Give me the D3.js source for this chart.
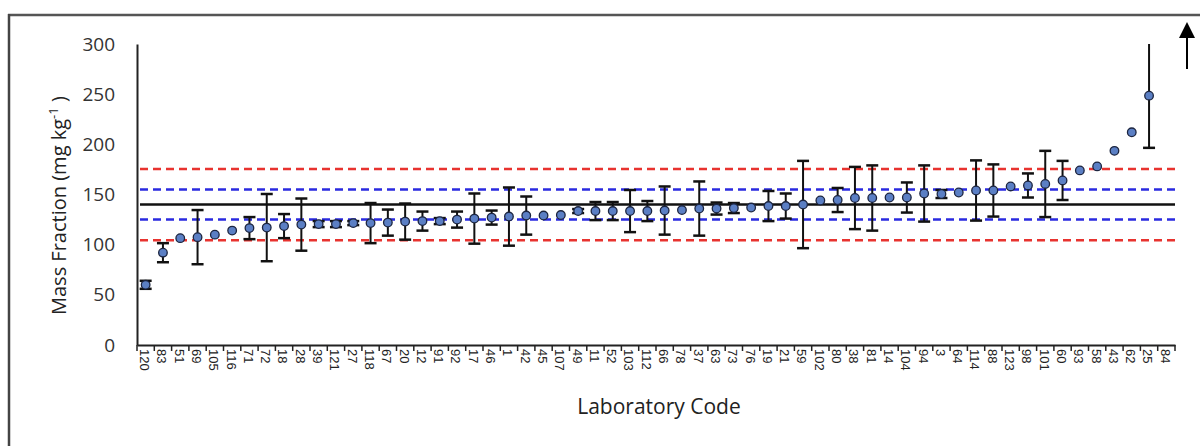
<!DOCTYPE html>
<html><head><meta charset="utf-8">
<script src="https://cdn.jsdelivr.net/npm/d3@7"></script>
<style>body{margin:0;background:#fff;} svg{display:block;}</style>
</head><body>
<svg id="c" width="1200" height="446"></svg>
<script>
const labCodes = ["120","83","51","69","105","116","71","72","18","28","39","121","27","118","67","20","12","91","92","17","46","1","42","45","107","49","11","52","103","112","66","78","37","63","73","76","19","21","59","102","80","38","81","14","104","94","3","64","114","88","123","98","101","60","93","58","43","62","25","84"];
const massValues = [60,92,106.5,107.5,110,114,116.5,117,118.5,120,120.5,120.5,121.5,121.5,122,123,123.5,123.5,125,126,127,128,129,129,129.5,133.5,133.5,133.5,133.5,133.5,134,134.5,136,136,136.5,137,138.5,138.5,140,144,144.5,146.5,146.5,147,147,151,150.5,152,154,154,158,159,160.5,164,174,178,193.5,212,248.5,null];
const uncertainties = [4,9.5,0,27,0,0,11,33.5,12,26,3,3,2,20,13,18,9.5,3,8,25,7,29,19,0,0,2,9,9,21,10,24,0,27,6,5,0,15,12.5,43.5,0,12,31,32.5,0,15,28,4,0,30,26,0,12,33,19.5,0,0,0,0,52,0];
const yTicks = [0,50,100,150,200,250,300];
const refMean = 140;
const refInner = [125,155];
const refOuter = [104.5,175.5];

const FONT = "'Open Sans', Lato, sans-serif";
const svg = d3.select("#c");
// outer frame
svg.append("line").attr("x1",8).attr("x2",1200).attr("y1",15).attr("y2",15).attr("stroke","#555").attr("stroke-width",2.5);
svg.append("line").attr("x1",9).attr("x2",9).attr("y1",14).attr("y2",446).attr("stroke","#444").attr("stroke-width",2.5);

const x = d3.scaleBand().domain(labCodes).range([137,1175]).padding(0);
const y = d3.scaleLinear().domain([0,300]).range([345,44]);

svg.append("defs").append("clipPath").attr("id","pc").append("rect")
  .attr("x",120).attr("y",44).attr("width",1080).attr("height",310);

// reference lines
const xl = 140, xr = 1175;
function hline(v,color,dash){
  svg.append("line").attr("x1",xl).attr("x2",xr).attr("y1",y(v)).attr("y2",y(v))
    .attr("stroke",color).attr("stroke-width",2.5).attr("stroke-dasharray",dash||null);
}
refOuter.forEach(v=>hline(v,"#e8332f","8,5"));
refInner.forEach(v=>hline(v,"#2a2ae0","8,5"));
hline(refMean,"#111");

// axes
const yAxis = d3.axisLeft(y).tickValues(yTicks).tickSize(0).tickPadding(22);
const gy = svg.append("g").attr("transform","translate(137,0)").call(yAxis);
gy.select(".domain").attr("stroke","#222").attr("stroke-width",2);
gy.selectAll("text").attr("font-family",FONT).attr("font-size",19).attr("fill","#333");

const xAxis = d3.axisBottom(x).tickSize(0);
const gx = svg.append("g").attr("transform","translate(0,345)").call(xAxis);
gx.select(".domain").attr("stroke","#222").attr("stroke-width",2);
gx.selectAll("text")
  .attr("font-family","'Liberation Sans', Arial, sans-serif").attr("font-size",13).attr("fill","#222")
  .attr("text-anchor","start").attr("dy","0.35em")
  .attr("transform","translate(-1,4) rotate(90)").attr("y",0).attr("x",0);
// tick marks at category boundaries
const bounds = labCodes.map(c=>x(c)).concat([x.range()[1]]);
gx.selectAll("line.bt").data(bounds).join("line").attr("class","bt")
  .attr("x1",d=>d).attr("x2",d=>d).attr("y1",0).attr("y2",6).attr("stroke","#222").attr("stroke-width",1.5);

// data
const data = labCodes.map((c,i)=>({c, v:massValues[i], e:uncertainties[i]})).filter(d=>d.v!==null);
const gd = svg.append("g").attr("clip-path","url(#pc)");
const cx = d=>x(d.c)+x.bandwidth()/2;
const eb = data.filter(d=>d.e>0);
gd.selectAll("line.eb").data(eb).join("line").attr("class","eb")
  .attr("x1",cx).attr("x2",cx).attr("y1",d=>y(Math.min(300,d.v+d.e))).attr("y2",d=>y(d.v-d.e))
  .attr("stroke","#111").attr("stroke-width",2);
const capW = 6;
gd.selectAll("line.ct").data(eb.filter(d=>d.v+d.e<300)).join("line").attr("class","ct")
  .attr("x1",d=>cx(d)-capW).attr("x2",d=>cx(d)+capW).attr("y1",d=>y(d.v+d.e)).attr("y2",d=>y(d.v+d.e))
  .attr("stroke","#111").attr("stroke-width",2.5);
gd.selectAll("line.cb").data(eb).join("line").attr("class","cb")
  .attr("x1",d=>cx(d)-capW).attr("x2",d=>cx(d)+capW).attr("y1",d=>y(d.v-d.e)).attr("y2",d=>y(d.v-d.e))
  .attr("stroke","#111").attr("stroke-width",2.5);
gd.selectAll("circle.pt").data(data).join("circle").attr("class","pt")
  .attr("cx",cx).attr("cy",d=>y(d.v)).attr("r",4.3)
  .attr("fill","#5b7fc4").attr("stroke","#1c2540").attr("stroke-width",1.3);

// off-scale arrow for lab 84
const ax = 1187;
svg.append("line").attr("x1",ax).attr("x2",ax).attr("y1",34).attr("y2",69).attr("stroke","#000").attr("stroke-width",2);
svg.append("path").attr("d",`M${ax},22 L${ax-8},38 L${ax+8},38 Z`).attr("fill","#000");

// titles
const yt = svg.append("text").attr("transform","translate(66,315) rotate(-90)")
  .attr("text-anchor","start").attr("font-family",FONT).attr("font-size",20).attr("fill","#222");
yt.append("tspan").text("Mass Fraction (mg kg");
yt.append("tspan").attr("dy",-8).attr("font-size",13).text("-1");
yt.append("tspan").attr("dy",8).text(" )");
svg.append("text").attr("x",659).attr("y",414).attr("text-anchor","middle")
  .attr("font-family",FONT).attr("font-size",21).attr("fill","#222").text("Laboratory Code");
</script>
</body></html>
